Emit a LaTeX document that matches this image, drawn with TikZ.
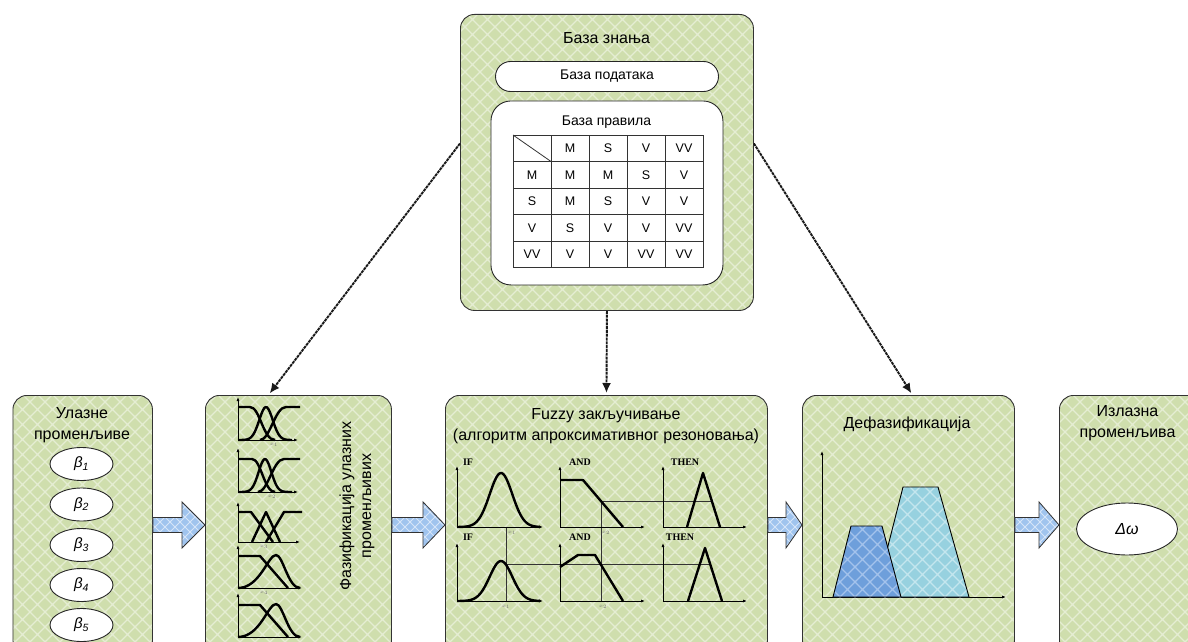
\documentclass[tikz,border=0pt]{standalone}
\usepackage{fontspec}
\setmainfont{Liberation Sans}
\newfontfamily\labelserif{Liberation Serif}
\usetikzlibrary{arrows.meta,calc,patterns,shapes.geometric}

% diagonal lattice used on panels and shapes
\pgfdeclarepatternformonly{diamondgrid}{\pgfpoint{-1pt}{-1pt}}{\pgfpoint{16pt}{16pt}}{\pgfpoint{15pt}{15pt}}{%
  \pgfsetlinewidth{1.2pt}%
  \pgfpathmoveto{\pgfpoint{-1pt}{-1pt}}\pgfpathlineto{\pgfpoint{16pt}{16pt}}%
  \pgfpathmoveto{\pgfpoint{-1pt}{16pt}}\pgfpathlineto{\pgfpoint{16pt}{-1pt}}%
  \pgfusepath{stroke}}
\pgfdeclarepatternformonly{finegrid}{\pgfpoint{-1pt}{-1pt}}{\pgfpoint{11pt}{11pt}}{\pgfpoint{10pt}{10pt}}{%
  \pgfsetlinewidth{1pt}%
  \pgfpathmoveto{\pgfpoint{-1pt}{-1pt}}\pgfpathlineto{\pgfpoint{11pt}{11pt}}%
  \pgfpathmoveto{\pgfpoint{-1pt}{11pt}}\pgfpathlineto{\pgfpoint{11pt}{-1pt}}%
  \pgfusepath{stroke}}

\definecolor{panelgreen}{HTML}{CFDEAD}
\definecolor{gridgreen}{HTML}{E5EDD3}
\definecolor{arrowblue}{HTML}{A0C4EE}
\definecolor{gridblue}{HTML}{D6E5F8}
\definecolor{setblue}{HTML}{6E9FDB}
\definecolor{setbluegrid}{HTML}{A4C3EC}
\definecolor{setcyan}{HTML}{97D1DF}
\definecolor{setcyangrid}{HTML}{C4E6EE}

\tikzset{
  panel/.style={draw=black!80, line width=0.9pt, rounded corners=14pt,
    preaction={fill=panelgreen}, pattern=diamondgrid, pattern color=gridgreen,
    inner sep=0pt, anchor=north west},
  whitebox/.style={draw=black!85, line width=0.9pt, fill=white, inner sep=0pt},
  ttl/.style={font=\fontsize{16}{21}\selectfont, align=center, inner sep=0pt},
  sub/.style={font=\fontsize{14}{16}\selectfont, inner sep=0pt},
  cell/.style={font=\fontsize{12.5}{14}\selectfont, inner sep=0pt},
  var/.style={whitebox, ellipse, font=\fontsize{15}{17}\selectfont\itshape},
  tabline/.style={line width=0.8pt, draw=black!80},
  kblink/.style={line width=1.9pt, draw=black!90, dash pattern=on 3pt off 0.8pt,
    -{Latex[length=10pt,width=9pt]}},
  blockarrow/.style={draw=black!80, line width=0.8pt, preaction={fill=arrowblue},
    pattern=finegrid, pattern color=gridblue, line join=miter},
  axis/.style={line width=0.8pt, -{Latex[length=4pt,width=3pt]}},
  mf/.style={line width=2.4pt, line join=round},
  guide/.style={line width=0.7pt, draw=black!80},
  rulelbl/.style={font=\labelserif\bfseries\fontsize{10}{11}\selectfont, inner sep=0pt},
  tinylbl/.style={font=\fontsize{4}{4}\selectfont, text=black!55, inner sep=0pt},
}

% horizontal block arrow from #1 to the tip #2, head length #3
\newcommand\blockarrow[3]{%
  \draw[blockarrow] let \p1=(#1), \p2=(#2) in
    (\x1,\y1+7.5pt) -- (\x2-#3,\y1+7.5pt) -- (\x2-#3,\y1+23pt) -- (\x2,\y1)
    -- (\x2-#3,\y1-23pt) -- (\x2-#3,\y1-7.5pt) -- (\x1,\y1-7.5pt) -- cycle;}

% axes of one small membership plot
\newcommand\mfaxes[2]{\draw[axis] (0,0) -- (0,#1); \draw[axis] (0,0) -- (#2,0);}

\begin{document}
\begin{tikzpicture}[x=1pt,y=-1pt]
\useasboundingbox (0,0) rectangle (1188,642);
\clip (0,0) rectangle (1188,642);
\fill[white] (0,0) rectangle (1188,642);

% ---------- knowledge base ----------
\node[panel, minimum width=293pt, minimum height=296pt] (kb) at (460,14) {};
\node[ttl] (kbT) at (606.5,38) {База знања};
\node[whitebox, rounded corners=15pt, minimum width=223pt, minimum height=30pt, sub]
  (db) at (607,76.5) {База података};
\node[whitebox, rounded corners=20pt, anchor=north west, minimum width=232pt,
  minimum height=184pt] (rb) at (490.5,100.5) {};
\node[sub] (rbT) at (606.5,122) {База правила};

% rule table
\fill[white] (513,135) rectangle (703,267.5);
\foreach \x in {513,551,589,627,665,703}
  \draw[tabline] (\x,135) -- (\x,267.5);
\foreach \y in {135,161.5,188,214.5,241,267.5}
  \draw[tabline] (513,\y) -- (703,\y);
\draw[tabline] (513,135) -- (551,161.5);
\foreach \t [count=\c] in {M,S,V,VV}
  \node[cell] (head-\c) at ({513+38*\c+19},148.25) {\t};
\foreach \a/\b/\cc/\d/\e [count=\r] in {M/M/M/S/V, S/M/S/V/V, V/S/V/V/VV, VV/V/V/VV/VV}{
  \node[cell] (c-\r-0) at (532,{148.25+26.5*\r}) {\a};
  \node[cell] (c-\r-1) at (570,{148.25+26.5*\r}) {\b};
  \node[cell] (c-\r-2) at (608,{148.25+26.5*\r}) {\cc};
  \node[cell] (c-\r-3) at (646,{148.25+26.5*\r}) {\d};
  \node[cell] (c-\r-4) at (684,{148.25+26.5*\r}) {\e};
}

% ---------- processing chain ----------
\node[panel, minimum width=139.5pt, minimum height=259pt] (inp)  at (12.5,395) {};
\node[panel, minimum width=186pt,   minimum height=259pt] (fz)   at (205,395) {};
\node[panel, minimum width=322pt,   minimum height=259pt] (inf)  at (445,395) {};
\node[panel, minimum width=212pt,   minimum height=259pt] (dfz)  at (802,395) {};
\node[panel, minimum width=160pt,   minimum height=259pt] (outp) at (1059,395) {};

% inputs
\node[ttl] (inpT) at (82,425) {Улазне\\променљиве};
\foreach \i/\y in {1/464,2/504.5,3/545,4/585,5/625}
  \node[var, minimum width=63pt, minimum height=33pt] (b\i) at (81.5,\y)
    {β\textsubscript{\i}};

% fuzzification
\node[ttl, rotate=90, font=\fontsize{16}{20}\selectfont] (fzT) at (357,506)
  {Фазификација улазних\\променљивих};
\begin{scope}[shift={(238,440)}, yscale=-1]
  \mfaxes{43}{60}
  \draw[mf] (0,33) -- (12,33) .. controls (22,33) and (25,0) .. (37,0);
  \draw[mf] plot[domain=0:54, samples=40] (\x,{33*exp(-((\x-28)/9.5)^2)});
  \draw[mf] (22,0) .. controls (32,0) and (37,33) .. (48,33) -- (62,33);
  \node[tinylbl] (lx1) at (36,-5) {$x_1$};
\end{scope}
\begin{scope}[shift={(238,492)}, yscale=-1]
  \mfaxes{44}{60}
  \draw[mf] (0,33) -- (14,33) .. controls (23,33) and (26,0) .. (37,0);
  \draw[mf] plot[domain=0:54, samples=40] (\x,{33*exp(-((\x-27)/9)^2)});
  \draw[mf] (20,0) .. controls (30,0) and (35,33) .. (46,33) -- (62,33);
  \node[tinylbl] (lx2) at (34,-5) {$x_2$};
\end{scope}
\begin{scope}[shift={(238,542)}, yscale=-1]
  \mfaxes{40}{62}
  \draw[mf] (0,30) -- (13,30) -- (35,0);
  \draw[mf] (14,0) -- (28,30) -- (42,0);
  \draw[mf] (28,0) -- (46,30) -- (64,30);
  \node[tinylbl] (lx3) at (26,-5) {$x_3$};
\end{scope}
\begin{scope}[shift={(238,588)}, yscale=-1]
  \mfaxes{43}{64}
  \draw[mf] (0,32) -- (22,32) -- (50,0);
  \draw[mf] (0,0) .. controls (22,0) and (30,33) .. (38,33) .. controls (45,33) and (50,0) .. (62,0);
  \node[tinylbl] (lx4) at (26,-5) {$x_4$};
\end{scope}
\begin{scope}[shift={(238,637)}, yscale=-1]
  \mfaxes{44}{64}
  \draw[mf] (0,32) -- (22,32) -- (50,0);
  \draw[mf] (0,0) .. controls (22,0) and (30,33) .. (38,33) .. controls (45,33) and (50,0) .. (62,0);
\end{scope}

% fuzzy inference
\node[ttl] (infT) at (606,426) {Fuzzy закључивање\\(алгоритм апроксимативног резоновања)};
% guide lines of the two rules
\draw[guide] (601,501) -- (712,501);
\draw[guide] (601,501) -- (601,601);
\draw[guide] (506,527) -- (506,601);
\draw[guide] (506,564) -- (710,564);
% upper rule
\node[rulelbl] (if1) at (468,462) {IF};
\node[rulelbl] (and1) at (580,462) {AND};
\node[rulelbl] (then1) at (685,462) {THEN};
\draw[axis] (457,527) -- (457,466);  \draw[axis] (457,527) -- (543,527);
\draw[axis] (560,527) -- (560,466);  \draw[axis] (560,527) -- (645,527);
\draw[axis] (663,527) -- (663,466);  \draw[axis] (663,527) -- (747,527);
\draw[mf] plot[domain=457:540, samples=60] (\x,{527-54*exp(-((\x-501)/16)^2)});
\draw[mf] (560,480) -- (583,480) -- (623,527);
\draw[mf] (687,527) -- (703,473) -- (720,527);
\node[tinylbl] (x1a) at (512,533) {$x_1$};
\node[tinylbl] (x2a) at (606,533) {$x_2$};
% lower rule
\node[rulelbl] (if2) at (468,537) {IF};
\node[rulelbl] (and2) at (580,537) {AND};
\node[rulelbl] (then2) at (680,537) {THEN};
\draw[axis] (457,601) -- (457,543);  \draw[axis] (457,601) -- (543,601);
\draw[axis] (560,601) -- (560,543);  \draw[axis] (560,601) -- (645,601);
\draw[axis] (663,601) -- (663,543);  \draw[axis] (663,601) -- (747,601);
\draw[mf] plot[domain=457:540, samples=60] (\x,{601-40*exp(-((\x-501)/16)^2)});
\draw[mf] (560,567) -- (578,555) -- (595,555) -- (623,601);
\draw[mf] (688,601) -- (705,548) -- (722,601);
\node[tinylbl] (x1b) at (506,607) {$x_1$};
\node[tinylbl] (x2b) at (603,607) {$x_2$};

% defuzzification
\node[ttl] (dfzT) at (907,424) {Дефазификација};
\draw[axis] (822,597) -- (822,451);
\draw[axis] (822,597) -- (1006,597);
\draw[line width=0.9pt, draw=black, preaction={fill=setcyan}, pattern=diamondgrid,
  pattern color=setcyangrid] (875,597) -- (903,487) -- (938,487) -- (969,597) -- cycle;
\draw[line width=0.9pt, draw=black, preaction={fill=setblue}, pattern=diamondgrid,
  pattern color=setbluegrid] (833,597) -- (851,526) -- (882,526) -- (901,597) -- cycle;

% output
\node[ttl] (outpT) at (1127.5,423) {Излазна\\променљива};
\node[var, minimum width=101pt, minimum height=52pt, font=\fontsize{16}{18}\selectfont\itshape]
  (dw) at (1127,529) {Δω};

% flow between stages
\blockarrow{inp.east}{fz.west}{23pt}
\blockarrow{fz.east}{inf.west}{22pt}
\blockarrow{inf.east}{dfz.west}{16pt}
\blockarrow{dfz.east}{outp.west}{20pt}

% knowledge base feeds the three processing stages
\draw[kblink, shorten >=2pt] ($(kb.west)+(0,-19)$) -- ($(fz.north)+(-30,0)$);
\draw[kblink, shorten >=2pt] (kb.south) -- (inf.north);
\draw[kblink, shorten >=2pt] ($(kb.east)+(0,-19)$) -- ($(dfz.north)+(4,0)$);
\end{tikzpicture}
\end{document}
